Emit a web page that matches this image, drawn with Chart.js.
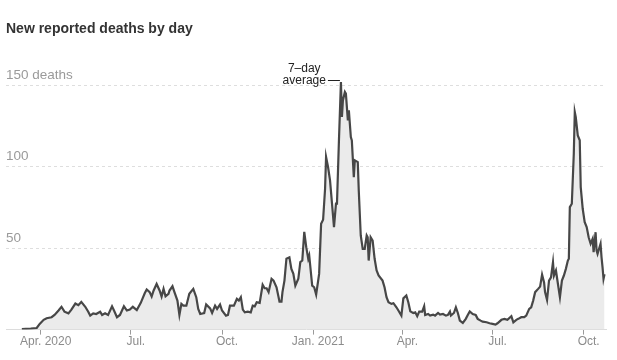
<!DOCTYPE html>
<html>
<head>
<meta charset="utf-8">
<script src="https://cdn.jsdelivr.net/npm/chart.js@4.4.0/dist/chart.umd.min.js"></script>
<style>
  html, body { margin: 0; padding: 0; background: #fff; }
  #wrap { position: relative; width: 617px; height: 360px; }
  #deathsChart { position: absolute; left: 0; top: 0; }
  #title { position: absolute; left: 6px; top: 21px; font: bold 14px "Liberation Sans", Arial, sans-serif; line-height: 14px; color: #333; }
</style>
</head>
<body>
<div id="wrap">
  <canvas id="deathsChart" width="617" height="360"></canvas>
  <div id="title">New reported deaths by day</div>
</div>
<script>
// 7-day average of new reported deaths
const dates = [
  '2020-03-13', '2020-03-17', '2020-03-22', '2020-03-28', '2020-03-31', '2020-04-04', '2020-04-07', '2020-04-12',
  '2020-04-15', '2020-04-19', '2020-04-22', '2020-04-25', '2020-04-29', '2020-05-02', '2020-05-06', '2020-05-09',
  '2020-05-12', '2020-05-16', '2020-05-19', '2020-05-21', '2020-05-24', '2020-05-27', '2020-05-31', '2020-06-02',
  '2020-06-05', '2020-06-08', '2020-06-12', '2020-06-14', '2020-06-17', '2020-06-20', '2020-06-24', '2020-06-27',
  '2020-06-30', '2020-07-03', '2020-07-07', '2020-07-11', '2020-07-15', '2020-07-17', '2020-07-20', '2020-07-22',
  '2020-07-24', '2020-07-27', '2020-07-30', '2020-08-01', '2020-08-03', '2020-08-05', '2020-08-08', '2020-08-09',
  '2020-08-12', '2020-08-14', '2020-08-17', '2020-08-19', '2020-08-21', '2020-08-23', '2020-08-26', '2020-08-29',
  '2020-09-02', '2020-09-05', '2020-09-07', '2020-09-09', '2020-09-13', '2020-09-15', '2020-09-19', '2020-09-21',
  '2020-09-24', '2020-09-26', '2020-09-29', '2020-10-01', '2020-10-05', '2020-10-07', '2020-10-09', '2020-10-13',
  '2020-10-16', '2020-10-18', '2020-10-20', '2020-10-22', '2020-10-24', '2020-10-27', '2020-10-30', '2020-11-01',
  '2020-11-03', '2020-11-05', '2020-11-08', '2020-11-11', '2020-11-13', '2020-11-15', '2020-11-17', '2020-11-20',
  '2020-11-22', '2020-11-25', '2020-11-28', '2020-11-30', '2020-12-01', '2020-12-03', '2020-12-05', '2020-12-08',
  '2020-12-10', '2020-12-12', '2020-12-14', '2020-12-17', '2020-12-19', '2020-12-21', '2020-12-23', '2020-12-25',
  '2020-12-27', '2020-12-28', '2020-12-31', '2021-01-02', '2021-01-04', '2021-01-07', '2021-01-09', '2021-01-11',
  '2021-01-13', '2021-01-14', '2021-01-16', '2021-01-18', '2021-01-20', '2021-01-22', '2021-01-24', '2021-01-25',
  '2021-01-27', '2021-01-29', '2021-01-30', '2021-01-31', '2021-02-02', '2021-02-03', '2021-02-05', '2021-02-06',
  '2021-02-08', '2021-02-09', '2021-02-11', '2021-02-12', '2021-02-15', '2021-02-16', '2021-02-18', '2021-02-20',
  '2021-02-22', '2021-02-24', '2021-02-25', '2021-02-26', '2021-02-28', '2021-03-02', '2021-03-04', '2021-03-06',
  '2021-03-08', '2021-03-12', '2021-03-14', '2021-03-16', '2021-03-18', '2021-03-21', '2021-03-23', '2021-03-26',
  '2021-03-28', '2021-03-31', '2021-04-02', '2021-04-05', '2021-04-07', '2021-04-09', '2021-04-12', '2021-04-14',
  '2021-04-16', '2021-04-18', '2021-04-21', '2021-04-23', '2021-04-24', '2021-04-27', '2021-04-29', '2021-05-02',
  '2021-05-04', '2021-05-07', '2021-05-09', '2021-05-12', '2021-05-15', '2021-05-17', '2021-05-19', '2021-05-20',
  '2021-05-23', '2021-05-25', '2021-05-27', '2021-05-29', '2021-06-01', '2021-06-04', '2021-06-06', '2021-06-08',
  '2021-06-11', '2021-06-14', '2021-06-16', '2021-06-19', '2021-06-21', '2021-06-25', '2021-06-28', '2021-07-01',
  '2021-07-04', '2021-07-06', '2021-07-10', '2021-07-13', '2021-07-16', '2021-07-20', '2021-07-22', '2021-07-25',
  '2021-07-27', '2021-07-30', '2021-08-02', '2021-08-04', '2021-08-07', '2021-08-09', '2021-08-11', '2021-08-13',
  '2021-08-16', '2021-08-18', '2021-08-20', '2021-08-22', '2021-08-23', '2021-08-25', '2021-08-27', '2021-08-29',
  '2021-08-31', '2021-09-01', '2021-09-03', '2021-09-05', '2021-09-07', '2021-09-09', '2021-09-11', '2021-09-13',
  '2021-09-15', '2021-09-16', '2021-09-17', '2021-09-19', '2021-09-21', '2021-09-22', '2021-09-23', '2021-09-25',
  '2021-09-27', '2021-09-28', '2021-09-30', '2021-10-02', '2021-10-04', '2021-10-06', '2021-10-08', '2021-10-10',
  '2021-10-11', '2021-10-13', '2021-10-14', '2021-10-15', '2021-10-18', '2021-10-19', '2021-10-20', '2021-10-21',
  '2021-10-22'
];
const deaths = [
  0.3, 0.5, 0.6, 1.0, 3.5, 6, 7, 7.6,
  9, 11.7, 14, 11, 10, 12.3, 16, 15,
  17, 14, 11, 8.6, 10, 9.6, 11, 9,
  10, 9, 14.3, 11.7, 7.6, 9, 14.3, 11.7,
  12.3, 14, 12, 16.4, 22.3, 24.6, 23, 20.3,
  24, 28, 24, 20.3, 25, 20.5, 22, 24,
  26.6, 23, 17.8, 9, 15.8, 14.7, 14.7, 22,
  25, 19.9, 12.7, 9.6, 10.2, 15.4, 13, 10.2,
  14.7, 12.7, 15.4, 11.7, 8.6, 9, 14.7, 14.7,
  18.9, 17.8, 19.9, 12.3, 10.6, 11, 10.6, 14.7,
  14.3, 16.8, 16.4, 27.5, 25.4, 25.4, 23, 31.2,
  30.1, 26, 17.2, 17.2, 23, 30.1, 43.5, 44.4,
  37.3, 34.2, 27, 31.2, 41.4, 42.4, 60, 50.6,
  43.5, 45.5, 27, 26, 21.5, 34.2, 65, 67.4,
  86.5, 106, 99.8, 91.6, 77.3, 62.9, 77.3, 77.3,
  116.2, 152, 130.5, 140.7, 145.9, 144.9, 128.5, 134.6,
  118.2, 116.2, 93.6, 103.9, 102.8, 85.4, 57.8, 49.6,
  49.6, 57.8, 56.7, 42.4, 56.7, 54.7, 43.5, 36.3,
  33.2, 30.1, 26, 19.9, 16.8, 15.8, 16.2, 13.7,
  11.7, 8.6, 19.2, 20.9, 16.8, 11.2, 10.2, 10.6,
  8.2, 11, 11, 14.3, 9, 9.6, 8.6, 9.2,
  8.6, 10.2, 9.2, 9.6, 8.6, 9, 11, 8.6,
  10.2, 13.7, 10.2, 5.5, 4.1, 6.6, 9, 11.2,
  9.6, 9, 6.6, 5.5, 4.9, 4.5, 3.9, 3.5,
  3.1, 3.9, 6, 6.6, 6, 8.2, 4.5, 6,
  6.6, 7.6, 7.6, 8.6, 12.7, 13.7, 17.8, 23,
  25, 26.4, 33.8, 29, 23, 18.2, 30.1, 32.1,
  41.4, 33.2, 36.3, 28, 19.9, 30.1, 33.2, 37.3,
  42.4, 43.5, 75.2, 77.3, 108, 133.6, 130.5, 119.2,
  116.2, 87.5, 74.2, 66, 62.9, 56.7, 52.7, 55.7,
  47.5, 59.8, 48.6, 46.5, 52.7, 44.4, 38.3, 31.2,
  34
];

const tickDates = ['2020-04-01', '2020-07-01', '2020-10-01', '2021-01-01', '2021-04-01', '2021-07-01', '2021-10-01'];
const tickLabels = ['Apr. 2020', 'Jul.', 'Oct.', 'Jan. 2021', 'Apr.', 'Jul.', 'Oct.'];
const yTicks = [50, 100, 150];
const yTickLabels = ['50', '100', '150 deaths'];

// days counted from 1 Apr 2020 (no date adapter offline, so x is a plain linear axis)
function dayOf(s) {
    const p = s.split('-');
    return (Date.UTC(+p[0], +p[1] - 1, +p[2]) - Date.UTC(2020, 3, 1)) / 864e5;
}

const peakNote = {
    id: 'peakNote',
    afterDatasetsDraw(chart) {
        const {ctx, scales: {x, y}} = chart;
        const pts = chart.data.datasets[0].data;
        let peak = pts[0];
        pts.forEach(function (p) { if (p.y > peak.y) peak = p; });
        const px = x.getPixelForValue(peak.x);
        const py = Math.round(y.getPixelForValue(peak.y) - 2.5) + 0.5;
        ctx.save();
        ctx.strokeStyle = '#222';
        ctx.lineWidth = 1;
        ctx.beginPath();
        ctx.moveTo(px - 13, py);
        ctx.lineTo(px - 1, py);
        ctx.stroke();
        ctx.fillStyle = '#222';
        ctx.font = '12px "Liberation Sans", Arial, sans-serif';
        ctx.textBaseline = 'middle';
        ctx.textAlign = 'center';
        // "average" ends just before the leader line, "7–day" sits centred above it
        const right = px - 15;
        const mid = right - ctx.measureText('average').width / 2;
        ctx.fillText('7–day', mid, py - 12);
        ctx.fillText('average', mid, py);
        ctx.restore();
    }
};

document.addEventListener('DOMContentLoaded', function () {
    const ctx = document.getElementById('deathsChart').getContext('2d');
    new Chart(ctx, {
        type: 'line',
        data: {
            datasets: [{
                label: '7-day average',
                data: dates.map(function (d, i) { return {x: dayOf(d), y: deaths[i]}; }),
                borderColor: '#474747',
                borderWidth: 2.2,
                backgroundColor: '#ebebeb',
                fill: 'origin',
                pointRadius: 0,
                tension: 0
            }]
        },
        options: {
            responsive: false,
            animation: false,
            devicePixelRatio: 1,
            layout: {
                padding: {left: 6, right: 11, top: 69, bottom: 11}
            },
            plugins: {
                legend: {display: false},
                tooltip: {enabled: false}
            },
            scales: {
                x: {
                    type: 'linear',
                    min: -35,
                    max: 570.5,
                    afterBuildTicks: function (scale) {
                        scale.ticks = tickDates.map(function (d) { return {value: dayOf(d)}; });
                    },
                    grid: {drawOnChartArea: false, drawTicks: true, tickLength: 5, color: '#9a9a9a'},
                    border: {display: true, color: '#dcdcdc'},
                    ticks: {
                        padding: 0,
                        labelOffset: 5,
                        maxRotation: 0,
                        autoSkip: false,
                        color: '#8c8c8c',
                        font: {family: '"Liberation Sans", Arial, sans-serif', size: 12},
                        callback: function (value, index) {
                            return tickLabels[index];
                        }
                    }
                },
                y: {
                    min: 0,
                    max: 160,
                    afterBuildTicks: function (scale) {
                        scale.ticks = yTicks.map(function (v) { return {value: v}; });
                    },
                    grid: {drawTicks: false, color: '#dedede'},
                    border: {display: false, dash: [3, 3]},
                    ticks: {
                        mirror: true,
                        padding: 0,
                        labelOffset: -10,
                        color: '#9a9a9a',
                        font: {family: '"Liberation Sans", Arial, sans-serif', size: 13.5},
                        callback: function (value) {
                            return yTickLabels[yTicks.indexOf(value)];
                        }
                    }
                }
            }
        },
        plugins: [peakNote]
    });
});
</script>
</body>
</html>
